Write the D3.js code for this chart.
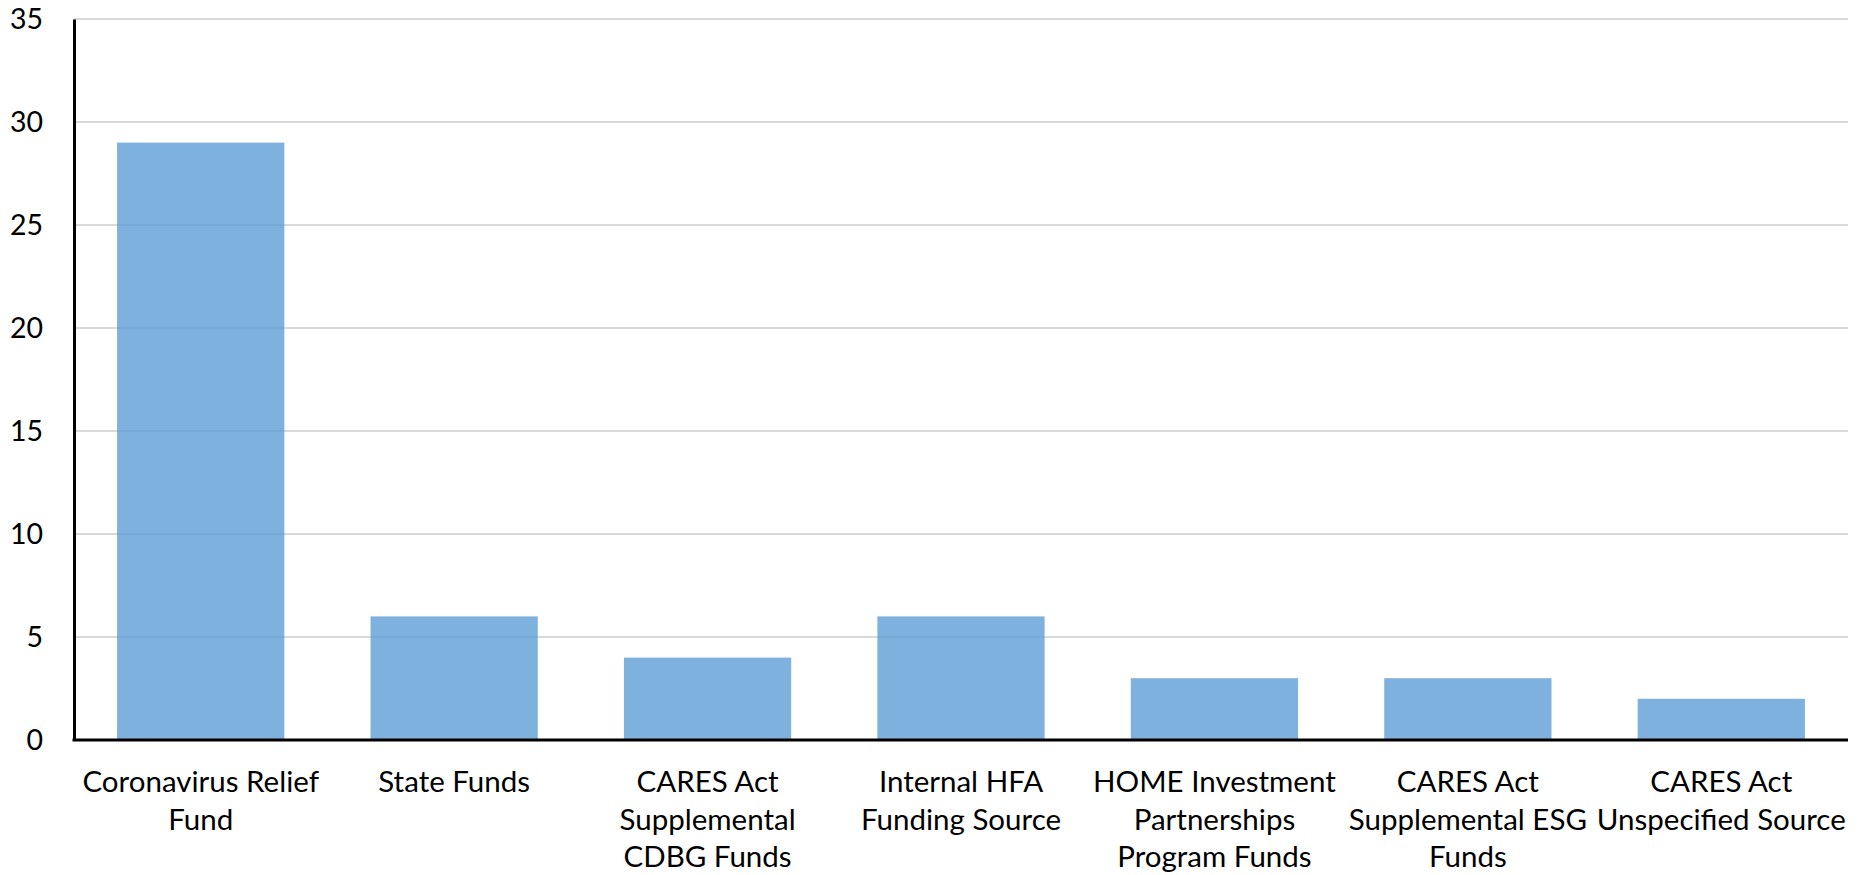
<!DOCTYPE html>
<html>
<head>
<meta charset="utf-8">
<script src="https://cdn.jsdelivr.net/npm/d3@7"></script>
<style>
  body { margin: 0; background: #fff; }
  text { font-family: Lato, "Open Sans", sans-serif; fill: #000; }
</style>
</head>
<body>
<div id="chart"></div>
<script>
(function(){

  var width = 1864, height = 875;

  // data
  var categories = [
    "Coronavirus Relief Fund",
    "State Funds",
    "CARES Act Supplemental CDBG Funds",
    "Internal HFA Funding Source",
    "HOME Investment Partnerships Program Funds",
    "CARES Act Supplemental ESG Funds",
    "CARES Act Unspecified Source"
  ];
  var labelLines = [
    ["Coronavirus Relief", "Fund"],
    ["State Funds"],
    ["CARES Act", "Supplemental", "CDBG Funds"],
    ["Internal HFA", "Funding Source"],
    ["HOME Investment", "Partnerships", "Program Funds"],
    ["CARES Act", "Supplemental ESG", "Funds"],
    ["CARES Act", "Unspecified Source"]
  ];
  var values = [29, 6, 4, 6, 3, 3, 2];
  var yTicks = [0, 5, 10, 15, 20, 25, 30, 35];

  var margin = {top: 19, right: 16, bottom: 135, left: 74};

  var svg = d3.select("#chart").append("svg")
      .attr("width", width)
      .attr("height", height);

  var x = d3.scaleBand()
      .domain(categories)
      .range([margin.left, width - margin.right])
      .paddingInner(0.34)
      .paddingOuter(0.17);

  var y = d3.scaleLinear()
      .domain([0, 35])
      .range([height - margin.bottom, margin.top]);

  // gridlines
  svg.append("g")
    .selectAll("line")
    .data(yTicks.filter(function(d){ return d > 0; }))
    .enter().append("line")
      .attr("x1", margin.left)
      .attr("x2", width - margin.right)
      .attr("y1", function(d){ return y(d); })
      .attr("y2", function(d){ return y(d); })
      .attr("stroke", "#d9d9d9")
      .attr("stroke-width", 2);

  // bars
  svg.append("g")
    .selectAll("rect")
    .data(values)
    .enter().append("rect")
      .attr("x", function(d, i){ return x(categories[i]); })
      .attr("y", function(d){ return y(d); })
      .attr("width", x.bandwidth())
      .attr("height", function(d){ return y(0) - y(d); })
      .attr("fill", "#5b9bd5")
      .attr("fill-opacity", 0.78);

  // y axis
  var yAxis = svg.append("g")
      .attr("transform", "translate(" + margin.left + ",0)")
      .call(d3.axisLeft(y).tickValues(yTicks).tickSize(0).tickPadding(31));
  yAxis.select(".domain").attr("stroke", "#000").attr("stroke-width", 3);
  yAxis.selectAll("text")
      .style("font-size", "28.5px")
      .attr("fill", "#000");

  // x axis
  var xAxis = svg.append("g")
      .attr("transform", "translate(0," + y(0) + ")")
      .call(d3.axisBottom(x).tickSize(0).tickFormat(""));
  xAxis.select(".domain")
      .attr("d", "M" + (margin.left - 1.5) + ",0H" + (width - margin.right))
      .attr("stroke", "#000").attr("stroke-width", 3);

  // wrapped category labels
  var lbl = svg.append("g")
    .selectAll("text")
    .data(categories)
    .enter().append("text")
      .attr("text-anchor", "middle")
      .style("font-size", "29.5px")
      .attr("transform", function(d){ return "translate(" + (x(d) + x.bandwidth()/2) + "," + (y(0) + 52) + ")"; });

  lbl.each(function(d, i){
    var t = d3.select(this);
    labelLines[i].forEach(function(line, j){
      t.append("tspan")
        .attr("x", 0)
        .attr("y", j * 37.5)
        .text(line);
    });
  });

})();
</script>
</body>
</html>
